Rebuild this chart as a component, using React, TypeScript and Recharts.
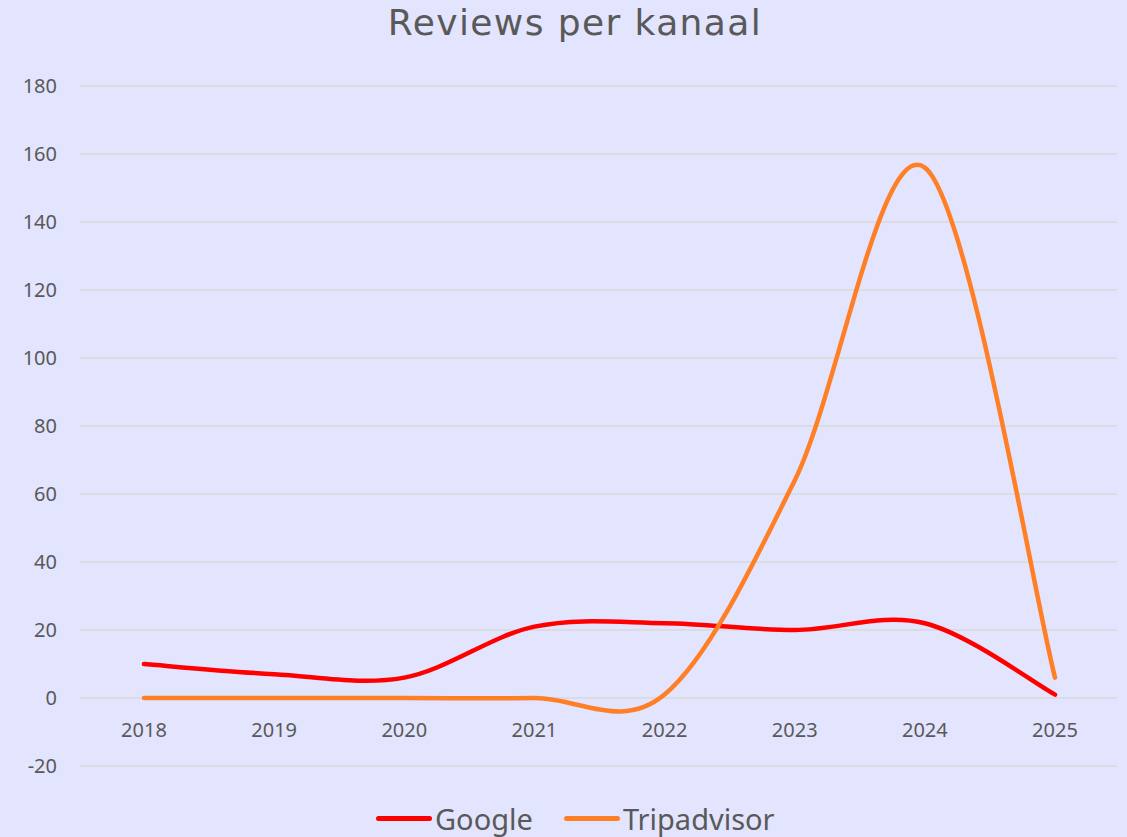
import React from 'react';
import { LineChart, Line, XAxis, YAxis, CartesianGrid } from 'recharts';

const years = ['2018', '2019', '2020', '2021', '2022', '2023', '2024', '2025'];
const googleValues = [10, 7, 6, 21, 22, 20, 22, 1];
const tripadvisorValues = [0, 0, 0, 0, 1, 64, 156, 6];
const yTicks = [-20, 0, 20, 40, 60, 80, 100, 120, 140, 160, 180];
const seriesNames = ['Google', 'Tripadvisor'];
const seriesColors = ['#FF0000', '#FF7F27'];

const data = years.map((year, i) => ({
  year,
  Google: googleValues[i],
  Tripadvisor: tripadvisorValues[i],
}));

// Excel-like smoothing (Catmull-Rom through points as cubic Bezier)
function excelSmooth(context: any) {
  let pts: number[][] = [];
  return {
    areaStart() {},
    areaEnd() {},
    lineStart() {
      pts = [];
    },
    point(x: number, y: number) {
      pts.push([+x, +y]);
    },
    lineEnd() {
      const n = pts.length;
      if (!n) return;
      context.moveTo(pts[0][0], pts[0][1]);
      if (n === 1) return;
      for (let i = 0; i < n - 1; i++) {
        const p0 = pts[Math.max(i - 1, 0)];
        const p1 = pts[i];
        const p2 = pts[i + 1];
        const p3 = pts[Math.min(i + 2, n - 1)];
        const c1x = p1[0] + (p2[0] - p0[0]) / 6;
        const c1y = p1[1] + (p2[1] - p0[1]) / 6;
        const c2x = p2[0] - (p3[0] - p1[0]) / 6;
        const c2y = p2[1] - (p3[1] - p1[1]) / 6;
        context.bezierCurveTo(c1x, c1y, c2x, c2y, p2[0], p2[1]);
      }
    },
  };
}

const FONT = '"Noto Sans", "Open Sans", sans-serif';
const TITLE_FONT = '"DejaVu Sans", "Noto Sans", sans-serif';
const TEXT = '#595959';

const XTick = (props: any) => {
  const { x, y, payload } = props;
  return (
    <text x={x} y={y - 29} textAnchor="middle" fill={TEXT} fontSize={20} fontFamily={FONT}>
      {payload.value}
    </text>
  );
};

export default function App() {
  return (
    <div
      style={{
        position: 'absolute',
        left: 0,
        top: 0,
        width: 1127,
        height: 837,
        background: '#E3E4FD',
        overflow: 'hidden',
        fontFamily: FONT,
      }}
    >
      <div
        style={{
          position: 'absolute',
          left: 0,
          width: 1150,
          top: 1,
          textAlign: 'center',
          fontSize: 36,
          letterSpacing: 1.4,
          lineHeight: '44px',
          color: TEXT,
          fontFamily: TITLE_FONT,
        }}
      >
        Reviews per kanaal
      </div>
      <LineChart
        width={1127}
        height={837}
        data={data}
        margin={{ top: 86, right: 10, bottom: 41, left: 0 }}
      >
        <CartesianGrid vertical={false} stroke="#D9D9D9" strokeWidth={1.5} />
        <XAxis
          dataKey="year"
          height={30}
          axisLine={false}
          tickLine={false}
          tickSize={0}
          tickMargin={0}
          interval={0}
          padding={{ left: 64, right: 62 }}
          tick={<XTick />}
        />
        <YAxis
          width={80}
          domain={[-20, 180]}
          ticks={yTicks}
          interval={0}
          axisLine={false}
          tickLine={false}
          tickSize={0}
          tickMargin={23}
          tick={{ fill: TEXT, fontSize: 20, fontFamily: FONT }}
        />
        {seriesNames.map((name, i) => (
          <Line
            key={name}
            dataKey={name}
            type={excelSmooth as any}
            stroke={seriesColors[i]}
            strokeWidth={4.5}
            strokeLinecap="round"
            strokeLinejoin="round"
            dot={false}
            activeDot={false}
            isAnimationActive={false}
          />
        ))}
      </LineChart>
      <div
        style={{
          position: 'absolute',
          left: 376,
          top: 798,
          height: 40,
          display: 'flex',
          alignItems: 'center',
          fontSize: 29,
          color: TEXT,
          fontFamily: FONT,
        }}
      >
        {seriesNames.map((name, i) => (
          <div key={name} style={{ display: 'flex', alignItems: 'center', marginRight: 31 }}>
            <div
              style={{
                width: 56,
                height: 5,
                borderRadius: 3,
                background: seriesColors[i],
                marginRight: 3,
              }}
            />
            <span>{name}</span>
          </div>
        ))}
      </div>
    </div>
  );
}
